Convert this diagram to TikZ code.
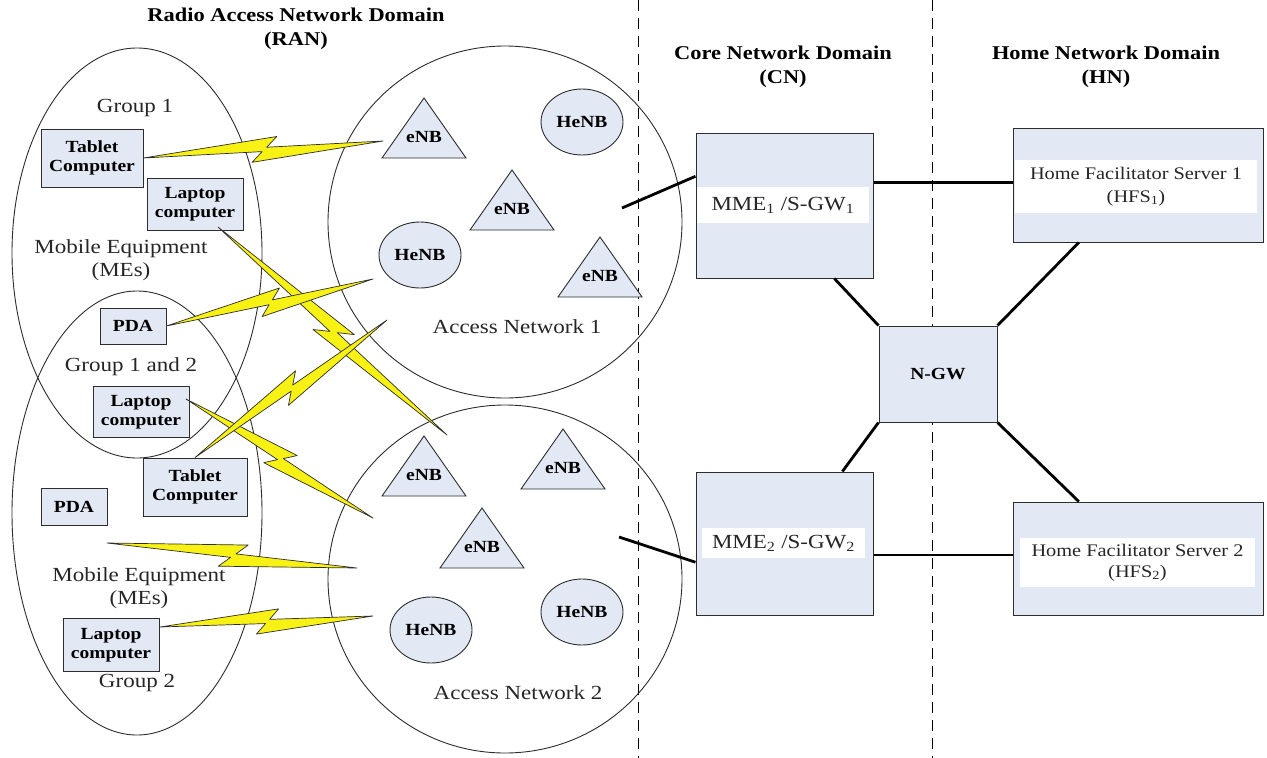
\documentclass[tikz,border=0pt]{standalone}
\usepackage{fontspec}
\setmainfont{Liberation Serif}[FakeStretch=1.15]
\usetikzlibrary{calc,shapes.geometric}
\definecolor{boxfill}{RGB}{226,233,244}
\definecolor{boltfill}{RGB}{248,242,20}
\definecolor{edge}{RGB}{45,45,45}
\newcommand\zapbolt[2]{%
  \filldraw[bolt] (#1) -- ($(#1)!0.56!(#2)!12pt!90:(#2)$) -- ($(#1)!0.515!(#2)!2pt!90:(#2)$)
    -- (#2) -- ($(#1)!0.45!(#2)!12pt!-90:(#2)$) -- ($(#1)!0.495!(#2)!2pt!-90:(#2)$) -- cycle;}
\newcommand\enbtri[3]{%
  \draw[tri] (#2,#3) -- ++(-42,60) -- ++(84,0) -- cycle;
  \node[bfont] (#1) at (#2,#3+39) {eNB};}
\begin{document}
\begin{tikzpicture}[x=1pt,y=-1pt,
  ring/.style={draw=edge, line width=0.9pt},
  divider/.style={draw=black, line width=1pt, dash pattern=on 11pt off 7pt},
  bfont/.style={font=\bfseries\fontsize{17}{19.5}\selectfont, align=center, inner sep=0pt},
  rfont/.style={font=\fontsize{20}{23.5}\selectfont, align=center, inner sep=0pt, text=black!85},
  hdr/.style={font=\bfseries\fontsize{19.5}{24}\selectfont, align=center, inner sep=0pt},
  dev/.style={bfont, draw=edge, line width=0.9pt, fill=boxfill},
  henb/.style={bfont, ellipse, draw=edge, line width=0.9pt, fill=boxfill, minimum width=82pt, minimum height=66pt},
  tri/.style={draw=edge, line width=0.9pt, fill=boxfill},
  bolt/.style={draw=edge, fill=boltfill, line width=0.7pt, line join=round},
  bigbox/.style={draw=edge, line width=1pt, fill=boxfill, inner sep=0pt},
  band/.style={fill=white, inner sep=0pt, align=center, text=black!85},
  link/.style={draw=black, line width=2.8pt}]
\useasboundingbox (0,0) rectangle (1267,758);
\fill[white] (0,0) rectangle (1267,758);

% domain dividers
\draw[divider] (638,0) -- (638,758);
\draw[divider] (932,0) -- (932,758);

% headers
\node[hdr] (ran) at (296,29) {Radio Access Network Domain\\(RAN)};
\node[hdr] (cn) at (783,67) {Core Network Domain\\(CN)};
\node[hdr] (hn) at (1106,67) {Home Network Domain\\(HN)};

% groups of mobile equipment
\draw[ring] (137,253) ellipse [x radius=125pt, y radius=205pt];
\draw[ring] (137,513) ellipse [x radius=125pt, y radius=222pt];
% access networks
\draw[ring] (505,222) ellipse [x radius=177pt, y radius=176pt];
\draw[ring] (505,579) ellipse [x radius=177pt, y radius=174pt];

\node[rfont] (grp1) at (135,108) {Group 1};
\node[rfont] (me1) at (121,260) {Mobile Equipment\\(MEs)};
\node[rfont] (grp12) at (131,367) {Group 1 and 2};
\node[rfont] (me2) at (139,588) {Mobile Equipment\\(MEs)};
\node[rfont] (grp2) at (137,683) {Group 2};
\node[rfont] (an1) at (517,327) {Access Network 1};
\node[rfont] (an2) at (518,693) {Access Network 2};

% base stations
\enbtri{e11}{424}{98}
\enbtri{e12}{512}{170}
\enbtri{e13}{600}{237}
\enbtri{e21}{424}{436}
\enbtri{e22}{563}{429}
\enbtri{e23}{482}{508}
\node[henb] (h11) at (582,122) {HeNB};
\node[henb] (h12) at (420,255) {HeNB};
\node[henb] (h21) at (431,630) {HeNB};
\node[henb] (h22) at (582,612) {HeNB};

% devices
\node[dev, minimum width=102pt, minimum height=58pt] (tab1) at (92,158) {Tablet\\Computer};
\node[dev, minimum width=96pt, minimum height=52pt] (lap1) at (195,204) {Laptop\\computer};
\node[dev, minimum width=66pt, minimum height=36pt] (pda1) at (133,326) {PDA};
\node[dev, minimum width=96pt, minimum height=51pt] (lap2) at (141,412) {Laptop\\computer};
\node[dev, minimum width=104pt, minimum height=58pt] (tab2) at (195,487) {Tablet\\Computer};
\node[dev, minimum width=66pt, minimum height=37pt] (pda2) at (74,507) {PDA};
\node[dev, minimum width=96pt, minimum height=53pt] (lap3) at (111,645) {Laptop\\computer};

% radio links
\coordinate (e1) at (383,141);
\coordinate (s2) at (218,227);
\coordinate (e2) at (447,435);
\coordinate (e3) at (373,279);
\coordinate (s4) at (186,399);
\coordinate (e4) at (373,518);
\coordinate (e5) at (387,320);
\coordinate (s6) at (107,543);
\coordinate (e6) at (357,568);
\coordinate (s7) at (160,627);
\coordinate (e7) at (373,616);
\zapbolt{tab1.east}{e1}
\zapbolt{s2}{e2}
\zapbolt{pda1.east}{e3}
\zapbolt{s4}{e4}
\zapbolt{tab2.north}{e5}
\zapbolt{s6}{e6}
\zapbolt{s7}{e7}

% core and home network
\node[bigbox, minimum width=177pt, minimum height=145pt] (mme1) at (784.5,205.5) {};
\node[band, minimum width=172pt, minimum height=36pt, font=\fontsize{20}{23}\selectfont] (mme1l) at (783,205) {MME\textsubscript{1} /S-GW\textsubscript{1}};
\node[bigbox, minimum width=250pt, minimum height=114pt] (hfs1) at (1138,185) {};
\node[band, minimum width=242pt, minimum height=53pt, font=\fontsize{17.7}{23}\selectfont] (hfs1l) at (1136,186.5) {Home Facilitator Server 1\\(HFS\textsubscript{1})};
\node[bigbox, bfont, minimum width=118pt, minimum height=96pt] (ngw) at (938,374) {N-GW};
\node[bigbox, minimum width=177pt, minimum height=143pt] (mme2) at (784.5,543.5) {};
\node[band, minimum width=163pt, minimum height=30pt, font=\fontsize{20}{23}\selectfont] (mme2l) at (783.5,543) {MME\textsubscript{2} /S-GW\textsubscript{2}};
\node[bigbox, minimum width=250pt, minimum height=113pt] (hfs2) at (1138,558.5) {};
\node[band, minimum width=235pt, minimum height=49pt, font=\fontsize{17.7}{21}\selectfont] (hfs2l) at (1137.5,562.5) {Home Facilitator Server 2\\(HFS\textsubscript{2})};

\coordinate (c1) at (622,208);
\coordinate (c2) at (619,537);
\draw[link] (c1) -- ($(mme1.north west)!0.3!(mme1.south west)$);
\draw[link] (c2) -- ($(mme2.north west)!0.63!(mme2.south west)$);
\coordinate (m1e) at ($(mme1.north east)!0.34!(mme1.south east)$);
\draw[link] (m1e) -- (m1e -| hfs1.west);
\coordinate (m2e) at ($(mme2.north east)!0.58!(mme2.south east)$);
\draw[link] (m2e) -- (m2e -| hfs2.west);
\draw[link] ($(mme1.south west)!0.78!(mme1.south east)$) -- (ngw.north west);
\draw[link] ($(hfs1.south west)!0.264!(hfs1.south east)$) -- (ngw.north east);
\draw[link] (ngw.south west) -- ($(mme2.north west)!0.825!(mme2.north east)$);
\draw[link] (ngw.south east) -- ($(hfs2.north west)!0.264!(hfs2.north east)$);
\end{tikzpicture}
\end{document}
